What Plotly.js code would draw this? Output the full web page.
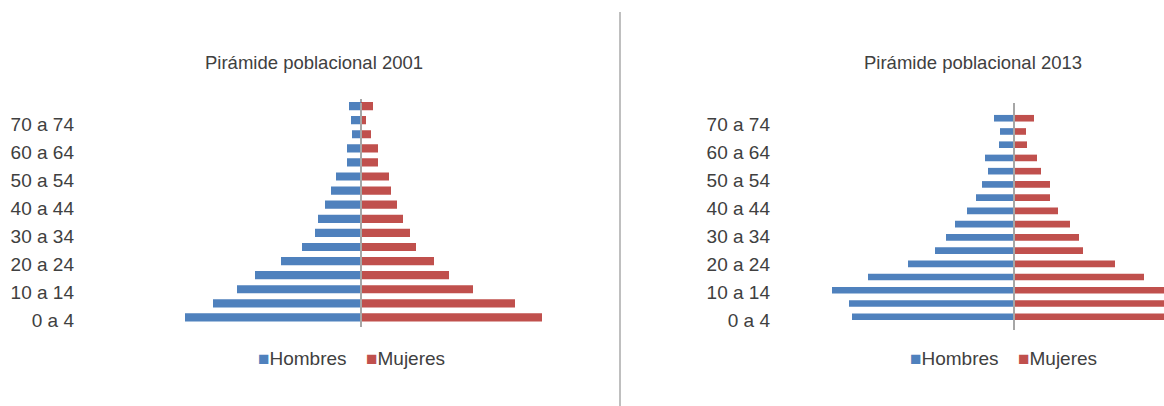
<!DOCTYPE html>
<html>
<head>
<meta charset="utf-8">
<script src="https://cdn.plot.ly/plotly-3.0.1.min.js"></script>
<style>html,body{margin:0;padding:0;background:#fff;}#chart{width:1164px;height:406px;}</style>
</head>
<body>
<div id="chart"></div>
<script>
// Grupos de edad (de abajo hacia arriba)
var grupos = ["0 a 4","5 a 9","10 a 14","15 a 19","20 a 24","25 a 29","30 a 34","35 a 39",
              "40 a 44","45 a 49","50 a 54","55 a 59","60 a 64","65 a 69","70 a 74","75 y más"];
var etiquetas = ["0 a 4","10 a 14","20 a 24","30 a 34","40 a 44","50 a 54","60 a 64","70 a 74"];

// Valores estimados (escala relativa)
var hombres2001 = [176,148,124,106,80,59,46,43,36,30,25,14,14,9,10,12];
var mujeres2001 = [181,154,112,88,73,55,49,42,36,30,28,17,17,10,5,12];
var hombres2013 = [162,165,182,146,106,79,68,59,47,38,32,26,29,15,14,20];
var mujeres2013 = [165,170,178,130,101,69,65,56,44,36,36,27,23,13,12,20];

var titulos = ["Pirámide poblacional 2001","Pirámide poblacional 2013"];
var series = ["Hombres","Mujeres"];

var AZUL = "#4F81BD", ROJO = "#C0504D", TXT = "#404040";
var FONT = "Liberation Sans, Arial, sans-serif";
var W = 1164, H = 406;
function px(x){return x/W;}
function py(y){return 1 - y/H;}
function neg(a){return a.map(function(v){return -v;});}

var traces = [
  {type:"bar", orientation:"h", name:series[0], y:grupos, x:neg(hombres2001), xaxis:"x", yaxis:"y",
   marker:{color:AZUL}, width:0.58, showlegend:false, hoverinfo:"skip"},
  {type:"bar", orientation:"h", name:series[1], y:grupos, x:mujeres2001, xaxis:"x", yaxis:"y",
   marker:{color:ROJO}, width:0.58, showlegend:false, hoverinfo:"skip"},
  {type:"bar", orientation:"h", name:series[0], y:grupos, x:neg(hombres2013), xaxis:"x2", yaxis:"y2",
   marker:{color:AZUL}, width:0.5, showlegend:false, hoverinfo:"skip"},
  {type:"bar", orientation:"h", name:series[1], y:grupos, x:mujeres2013, xaxis:"x2", yaxis:"y2",
   marker:{color:ROJO}, width:0.5, showlegend:false, hoverinfo:"skip"},
  // invisible traces carrying the category labels of each chart
  {type:"scatter", mode:"markers", x:grupos.map(function(){return 0;}), y:grupos, xaxis:"x", yaxis:"y4",
   marker:{opacity:0}, showlegend:false, hoverinfo:"skip"},
  {type:"scatter", mode:"markers", x:grupos.map(function(){return 0;}), y:grupos, xaxis:"x2", yaxis:"y3",
   marker:{opacity:0}, showlegend:false, hoverinfo:"skip"}
];

var catAxis = {
  type:"category", categoryorder:"array", categoryarray:grupos, range:[-0.5,15.5],
  tickmode:"array", tickvals:etiquetas, ticktext:etiquetas, ticks:"", showgrid:false,
  zeroline:false, showline:false, tickfont:{family:FONT, size:19, color:TXT}, fixedrange:true
};
var valAxis = {
  showgrid:false, showticklabels:false, ticks:"", showline:false,
  zeroline:true, zerolinecolor:"#A6A6A6", zerolinewidth:1.5, fixedrange:true
};

function legendItem(x, color, label){
  return {text:'<span style="color:'+color+'">■</span>'+label, xref:"paper", yref:"paper",
          x:px(x), y:py(358), xanchor:"left", yanchor:"middle", showarrow:false,
          font:{family:FONT, size:19, color:TXT}};
}

var layout = {
  width:W, height:H, margin:{l:0,r:0,t:0,b:0},
  paper_bgcolor:"#fff", plot_bgcolor:"rgba(0,0,0,0)",
  font:{family:FONT, color:TXT, size:18},
  barmode:"relative", showlegend:false,
  xaxis:Object.assign({}, valAxis, {domain:[px(75), px(561)], range:[-286,200], anchor:"y"}),
  yaxis:Object.assign({}, catAxis, {domain:[py(324.5), py(99)], showticklabels:false, anchor:"x"}),
  yaxis4:Object.assign({}, catAxis, {domain:[py(327), py(103)], anchor:"x"}),
  xaxis2:Object.assign({}, valAxis, {domain:[px(771), 1], range:[-243,150], anchor:"y2"}),
  yaxis2:Object.assign({}, catAxis, {domain:[py(330), py(105)], range:[-1,16], showticklabels:false, anchor:"x2"}),
  yaxis3:Object.assign({}, catAxis, {domain:[py(327), py(103)], anchor:"x2"}),
  annotations:[
    {text:titulos[0], xref:"paper", yref:"paper", x:px(314), y:py(63), xanchor:"center", yanchor:"middle",
     showarrow:false, font:{family:FONT, size:18.5, color:TXT}},
    {text:titulos[1], xref:"paper", yref:"paper", x:px(973), y:py(63), xanchor:"center", yanchor:"middle",
     showarrow:false, font:{family:FONT, size:18.5, color:TXT}},
    legendItem(256, AZUL, series[0]),
    legendItem(364, ROJO, series[1]),
    legendItem(908, AZUL, series[0]),
    legendItem(1016, ROJO, series[1])
  ],
  shapes:[
    {type:"line", xref:"paper", yref:"paper", x0:px(620), x1:px(620), y0:py(12), y1:0,
     line:{color:"#BFBFBF", width:2}}
  ]
};

Plotly.newPlot("chart", traces, layout, {displayModeBar:false, staticPlot:true});
</script>
</body>
</html>
